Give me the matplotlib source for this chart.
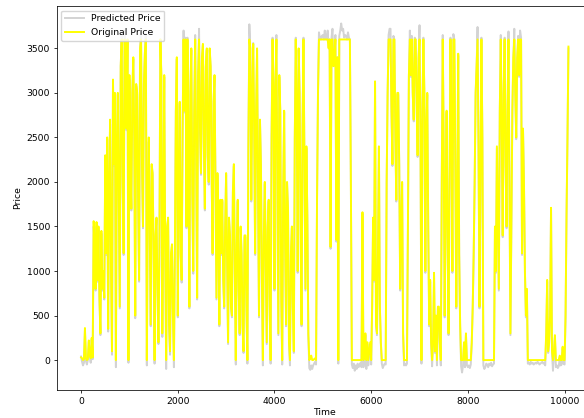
import numpy as np
import matplotlib
matplotlib.use("Agg")
import matplotlib.pyplot as plt

# sampling interval of the price series (time units)
time_step = 20

original_price = [
    30, 20, 0, 10, 360, 20, 0, 10, 220, 60,
    20, 250, 30, 1560, 1300, 800, 1550, 900, 1500, 700,
    300, 1450, 800, 1000, 700, 2300, 1200, 2500, 350, 1900,
    2700, 1000, 100, 3150, 2200, 3000, 0, 2400, 3000, 1800,
    600, 3300, 3600, 2000, 1200, 3600, 3400, 2600, 3600, 0,
    3200, 2200, 1700, 3000, 3400, 2500, 500, 3100, 3000, 1800,
    900, 3500, 3600, 2200, 1500, 3100, 3450, 3600, 0, 1800,
    2500, 1500, 400, 2200, 2100, 1200, 0, 1400, 1600, 800,
    200, 1200, 3600, 3200, 300, 1500, 3200, 1200, 0, 1500,
    1600, 400, 100, 1200, 1300, 500, 0, 1200, 2800, 3400,
    500, 2000, 2900, 1200, 900, 2600, 3600, 2800, 3600, 1500,
    3600, 2400, 600, 3000, 3500, 1900, 1000, 2800, 3600, 2300,
    700, 3200, 3600, 2600, 2100, 3400, 3550, 2400, 1700, 3300,
    3500, 2300, 2000, 3500, 3300, 2100, 1200, 2900, 3200, 2000,
    700, 2100, 1500, 400, 1800, 1200, 1800, 900, 600, 1500,
    2100, 1100, 200, 1600, 1400, 600, 500, 1900, 2200, 1000,
    0, 1300, 1800, 800, 300, 1500, 1200, 400, 100, 1400,
    1400, 600, 0, 2400, 3600, 3500, 1800, 2900, 3550, 2600,
    1200, 2800, 3500, 1900, 500, 2700, 2200, 900, 0, 1400,
    2000, 1100, 200, 1500, 1800, 600, 0, 2500, 3600, 3000,
    800, 3100, 3600, 2000, 300, 3200, 2800, 700, 0, 1900,
    2800, 1300, 400, 2000, 1700, 200, 0, 1200, 1500, 600,
    100, 2500, 3600, 2800, 1000, 3500, 3000, 1500, 400, 2600,
    3600, 2200, 800, 2400, 1600, 300, 0, 20, 50, 0,
    0, 10, 20, 0, 1800, 3000, 3600, 3600, 3600, 3600,
    3600, 3600, 3600, 3600, 3600, 3600, 3500, 3600, 1270, 3600,
    3600, 3300, 3400, 3600, 1350, 3400, 0, 3600, 3600, 3600,
    3600, 3600, 3600, 3600, 3600, 3600, 3600, 3600, 3600, 2000,
    0, 0, 0, 0, 0, 0, 0, 0, 0, 0,
    0, 1660, 0, 100, 300, 0, 200, 0, 100, 200,
    0, 600, 1600, 900, 3130, 400, 300, 1200, 2400, 600,
    200, 0, 0, 0, 0, 0, 2000, 3000, 3600, 3600,
    3600, 2800, 2200, 3600, 3600, 2500, 1800, 3000, 3000, 2200,
    800, 1500, 2000, 300, 0, 0, 0, 0, 1500, 3200,
    3600, 3200, 3600, 3000, 2700, 3600, 3600, 2900, 2300, 3400,
    3600, 2500, 0, 2800, 3600, 3000, 1000, 2600, 3000, 1500,
    400, 900, 200, 0, 200, 980, 100, 500, 0, 600,
    600, 200, 0, 2000, 3600, 2400, 500, 1800, 2800, 1400,
    300, 2000, 3600, 2600, 1000, 3600, 3600, 2200, 600, 1800,
    3440, 1200, 400, 0, 0, 0, 200, 0, 300, 0,
    0, 0, 0, 0, 200, 600, 1200, 2000, 3000, 3300,
    3600, 2400, 600, 2000, 3600, 2500, 0, 0, 0, 0,
    0, 0, 0, 0, 0, 0, 0, 0, 1500, 1000,
    2400, 1600, 800, 2800, 3600, 2600, 1400, 3000, 3600, 2200,
    1500, 2800, 3600, 2000, 300, 1500, 2800, 3400, 3600, 3000,
    2500, 3400, 3600, 3200, 3600, 3600, 1200, 2600, 2000, 1000,
    500, 800, 0, 0, 0, 0, 0, 0, 0, 0,
    0, 0, 0, 0, 0, 0, 0, 0, 0, 0,
    0, 300, 900, 100, 200, 500, 1710, 100, 0, 100,
    280, 0, 0, 0, 0, 50, 0, 0, 150, 0,
    0, 500, 1620, 2500, 3520,
]

predicted_price = [
    40, -20, -60, -30, 330, -10, -50, 0, 200, 40,
    -30, 230, 10, 1500, 1280, 780, 1500, 880, 1460, 680,
    280, 1420, 780, 980, 680, 2250, 1180, 2480, 320, 1880,
    2650, 980, 60, 3100, 2180, 2950, -80, 2380, 2980, 1780,
    580, 3300, 3650, 1980, 1180, 3700, 3400, 2580, 3600, -30,
    3150, 2180, 1680, 2980, 3380, 2480, 470, 3080, 2980, 1780,
    880, 3500, 3680, 2180, 1480, 3100, 3450, 3650, -60, 1780,
    2450, 1480, 380, 2180, 2080, 1180, -40, 1380, 1580, 780,
    180, 1180, 3600, 3180, 260, 1480, 3180, 1180, -100, 1480,
    1580, 380, 60, 1180, 1280, 480, -80, 1180, 2780, 3380,
    480, 1980, 2880, 1180, 870, 2580, 3700, 2780, 3620, 1480,
    3620, 2380, 580, 2980, 3480, 1880, 970, 2780, 3650, 2280,
    680, 3180, 3720, 2580, 2080, 3380, 3540, 2380, 1680, 3280,
    3480, 2280, 1970, 3480, 3280, 2080, 1180, 2880, 3180, 1980,
    680, 2080, 1480, 380, 1780, 1180, 1780, 880, 580, 1480,
    2080, 1080, 180, 1580, 1380, 580, 480, 1880, 2180, 980,
    -50, 1280, 1780, 780, 280, 1480, 1180, 380, 80, 1380,
    1380, 580, -40, 2380, 3770, 3500, 1780, 2880, 3560, 2580,
    1180, 2780, 3480, 1880, 480, 2680, 2180, 880, -60, 1380,
    1980, 1080, 180, 1480, 1780, 580, -40, 2480, 3620, 2980,
    780, 3080, 3650, 1980, 280, 3180, 2780, 680, -50, 1880,
    2780, 1280, 380, 1980, 1680, 180, -60, 1180, 1480, 580,
    80, 2480, 3620, 2780, 980, 3480, 2980, 1480, 380, 2580,
    3620, 2180, 780, 2380, 1580, 280, -90, -110, -60, -100,
    -60, -40, -20, -50, 1780, 2980, 3680, 3620, 3600, 3640,
    3650, 3600, 3700, 3620, 3600, 3700, 3520, 3600, 1250, 3620,
    3720, 3300, 3420, 3650, 1330, 3400, -40, 3640, 3700, 3780,
    3700, 3720, 3620, 3650, 3640, 3600, 3680, 3620, 3600, 1980,
    -50, -90, -40, -120, -60, -100, -40, -80, -60, -30,
    -80, 1640, -80, 80, 280, -100, 180, -60, 80, 180,
    -50, 580, 1580, 880, 3110, 380, 280, 1180, 2380, 580,
    180, -40, -90, -60, -40, -50, 1980, 2980, 3650, 3720,
    3720, 2780, 2180, 3640, 3600, 2480, 1780, 2980, 2980, 2180,
    780, 1480, 1980, 280, -60, -40, -60, -40, 1480, 3180,
    3700, 3180, 3640, 2980, 2680, 3620, 3600, 2880, 2280, 3380,
    3760, 2480, -40, 2780, 3620, 2980, 980, 2580, 2980, 1480,
    380, 880, 180, -70, 180, 960, 80, 480, -60, 580,
    580, 180, -60, 1980, 3650, 2380, 480, 1780, 2780, 1380,
    280, 1980, 3620, 2580, 980, 3660, 3600, 2180, 580, 1780,
    3420, 1180, 380, -70, -140, -60, 180, -80, 280, -60,
    -80, -60, -90, -50, 180, 580, 1180, 1980, 2980, 3280,
    3740, 2380, 580, 1980, 3620, 2480, -60, -100, -80, -40,
    -50, -80, -40, -60, -30, -70, -50, -40, 1480, 980,
    2380, 1580, 780, 2780, 3650, 2580, 1380, 2980, 3620, 2180,
    1480, 2780, 3690, 1980, 280, 1480, 2780, 3380, 3720, 2980,
    2480, 3380, 3640, 3180, 3700, 3620, 1180, 2580, 1980, 980,
    480, 780, -40, -30, -50, -20, -40, -30, -50, -40,
    -30, -40, -20, -30, -50, -40, -30, -20, -40, -30,
    -60, 280, 880, 80, 180, 480, 1690, 80, -120, 80,
    260, -80, -60, -90, -70, 30, -60, -50, 130, -40,
    -50, 480, 1600, 2480, 3500,
]

time = np.arange(len(original_price)) * time_step

plt.rcParams["font.size"] = 6.7

fig = plt.figure(figsize=(5.84, 4.18), dpi=100)
ax = fig.add_axes([0.0971, 0.067, 0.918, 0.9187])

ax.plot(time, predicted_price, color="lightgray", linewidth=1.4, label="Predicted Price")
ax.plot(time, original_price, color="yellow", linewidth=1.4, label="Original Price")

ax.set_xlabel("Time", labelpad=2)
ax.set_ylabel("Price", labelpad=3)
ax.tick_params(length=2.4, width=0.55, pad=2.4)
for spine in ax.spines.values():
    spine.set_linewidth(0.55)
ax.legend(loc="upper left", handlelength=2.0)

fig.savefig("out.png", dpi=100)
